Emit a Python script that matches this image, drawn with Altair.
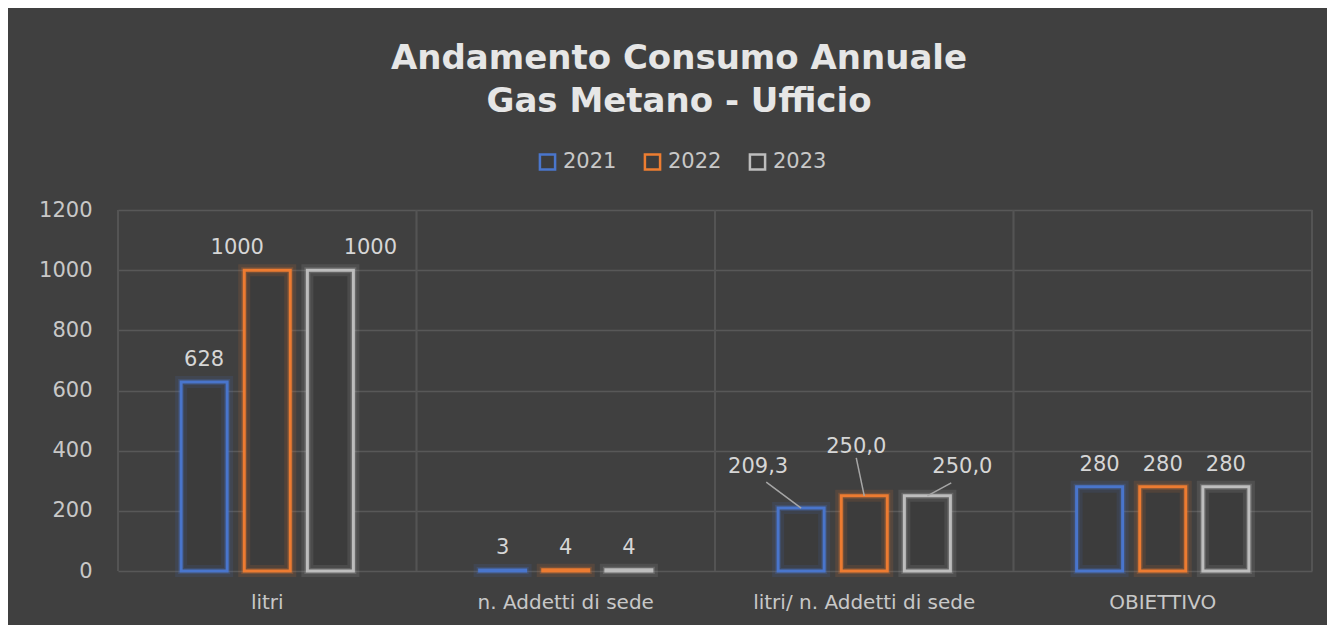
import altair as alt
import pandas as pd

categories = ["litri", "n. Addetti di sede", "litri/ n. Addetti  di sede", "OBIETTIVO"]
years = ["2021", "2022", "2023"]
values_2021 = [628, 3, 209.3, 280]
values_2022 = [1000, 4, 250.0, 280]
values_2023 = [1000, 4, 250.0, 280]
labels_2021 = ["628", "3", "209,3", "280"]
labels_2022 = ["1000", "4", "250,0", "280"]
labels_2023 = ["1000", "4", "250,0", "280"]
y_ticks = [0, 200, 400, 600, 800, 1000, 1200]
colors = ["#4A76CC", "#ED7D31", "#BDBDBD"]

rows = []
for yr, vals, labs in zip(years, [values_2021, values_2022, values_2023],
                          [labels_2021, labels_2022, labels_2023]):
    for c, v, l in zip(categories, vals, labs):
        rows.append({"cat": c, "year": yr, "value": v, "label": l, "key": c + "|" + yr})
df = pd.DataFrame(rows)

FONT = "DejaVu Sans"
TXT = "#d6d6d6"

xenc = alt.X("cat:N", sort=categories,
             scale=alt.Scale(paddingInner=0, paddingOuter=0),
             axis=alt.Axis(title=None, labelAngle=0, labelAlign="center", labelLimit=500,
                           labelFont=FONT, labelFontSize=20,
                           labelColor="#c8c8c8", labelPadding=31, domain=False,
                           ticks=False, grid=False))
xoff = alt.XOffset("year:N", sort=years,
                   scale=alt.Scale(paddingInner=0.271, paddingOuter=1))
yenc = alt.Y("value:Q", scale=alt.Scale(domain=[0, 1200], nice=False),
             axis=alt.Axis(title=None, values=y_ticks, format="d", labelFont=FONT,
                           labelFontSize=21, labelColor="#c8c8c8", labelPadding=26,
                           domain=False, ticks=False, grid=True, gridColor="#585858",
                           gridWidth=1.5))
legend = alt.Legend(title=None, orient="none", legendX=419, legendY=-59,
                    direction="horizontal", symbolType="square",
                    symbolSize=230, symbolStrokeWidth=2.5, symbolOpacity=1,
                    symbolFillColor="#404040",
                    labelFont=FONT, labelFontSize=21, labelColor="#c8c8c8",
                    labelOffset=5, columnPadding=22)
stroke_enc = alt.Stroke("year:N", scale=alt.Scale(domain=years, range=colors), legend=legend)

base = alt.Chart(df).encode(x=xenc, xOffset=xoff, y=yenc)

vgrid = alt.Chart(df).mark_rule(color="#545454", strokeWidth=1.5).encode(
    x=alt.X("cat:N", sort=categories, bandPosition=0))
vgrid_end = alt.Chart(df).transform_filter(
    alt.datum.cat == categories[-1]).mark_rule(color="#545454", strokeWidth=1.5).encode(
    x=alt.X("cat:N", sort=categories, bandPosition=1))

bars = base.mark_bar(fill="#3c3c3c", strokeWidth=3).encode(stroke=stroke_enc)
glow1 = base.mark_bar(fillOpacity=0, strokeWidth=12, strokeOpacity=0.12).encode(stroke=stroke_enc)
glow2 = base.mark_bar(fillOpacity=0, strokeWidth=6, strokeOpacity=0.22).encode(stroke=stroke_enc)

special = {
    "litri|2022": (-30, -16),
    "litri|2023": (40, -16),
    categories[2] + "|2021": (-43, -35),
    categories[2] + "|2022": (-8, -43),
    categories[2] + "|2023": (35, -23),
}

text_style = dict(font=FONT, fontSize=21, color=TXT, baseline="alphabetic", align="center")
normal_text = base.transform_filter(
    ~alt.FieldOneOfPredicate(field="key", oneOf=list(special.keys()))
).mark_text(dy=-16, **text_style).encode(text="label:N")

layers = [vgrid, vgrid_end, bars, glow1, glow2, normal_text]
for k, (dx, dy) in special.items():
    layers.append(base.transform_filter(alt.datum.key == k)
                  .mark_text(dx=dx, dy=dy, **text_style).encode(text="label:N"))

leaders = {
    "2021": dict(xOffset=0, yOffset=0, x2Offset=-98, y2Offset=-26),
    "2022": dict(xOffset=0, yOffset=0, x2Offset=-8, y2Offset=-38),
    "2023": dict(xOffset=4, yOffset=0, x2Offset=87, y2Offset=-13),
}
for yr, offs in leaders.items():
    layers.append(base.transform_filter(
        (alt.datum.cat == categories[2]) & (alt.datum.year == yr)
    ).mark_rule(color="#a6a6a6", strokeWidth=1.5, **offs).encode(
        x2=alt.X2("cat:N"), y2=alt.Y2("value:Q")))

chart = alt.layer(*layers).properties(
    width=1194, height=361,
    title=alt.TitleParams(["Andamento Consumo Annuale", "Gas Metano - Ufficio"],
                          font=FONT, fontSize=34, fontWeight="bold", color="#e6e6e6",
                          anchor="middle", dx=-36, offset=32, lineHeight=43),
    padding={"left": 110, "top": 202, "right": 15, "bottom": 54},
    autosize=alt.AutoSizeParams(type="none"),
    background="#404040",
).configure_view(stroke=None)

chart.save("out.html", embed_options={"renderer": "svg", "actions": False})
